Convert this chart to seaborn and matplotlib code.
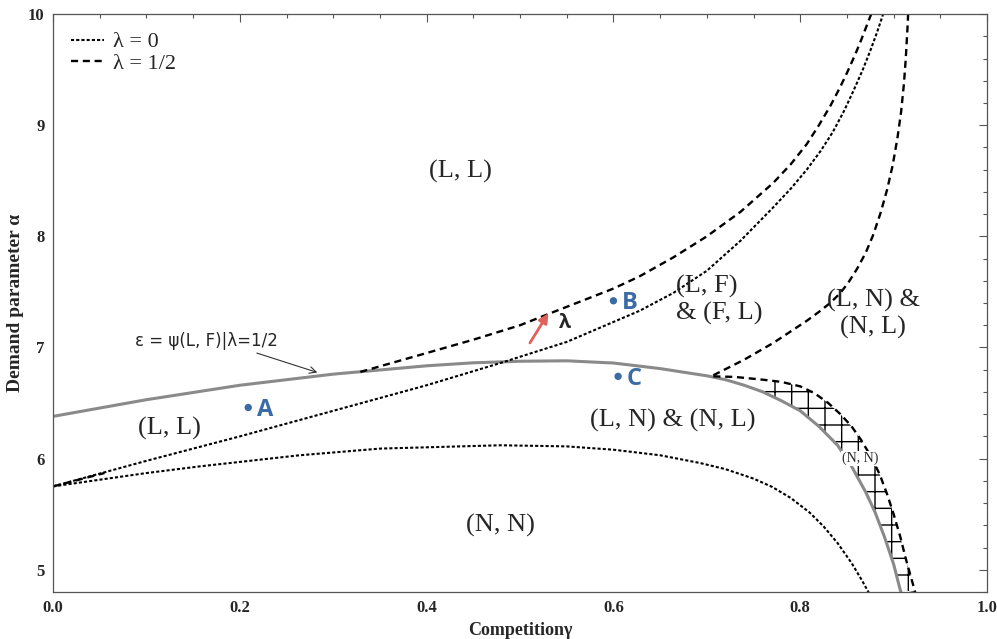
import numpy as np
import seaborn as sns
import matplotlib.pyplot as plt
from matplotlib.ticker import MultipleLocator

# psi(L, F) boundary at lambda = 1/2 (grey solid)
psi_g = [0.0, 0.1, 0.2, 0.3, 0.4, 0.45, 0.5, 0.55, 0.6, 0.65, 0.7, 0.72, 0.74, 0.76, 0.78, 0.8,
         0.82, 0.84, 0.855, 0.87, 0.88, 0.89, 0.9, 0.907, 0.912]
psi_a = [6.38, 6.53, 6.66, 6.76, 6.835, 6.862, 6.876, 6.88, 6.86, 6.81, 6.745, 6.71, 6.66, 6.60,
         6.52, 6.43, 6.29, 6.12, 5.93, 5.70, 5.52, 5.30, 5.05, 4.82, 4.7]

# lambda = 0 (dotted)
l0_up_g = [0.0, 0.1, 0.2, 0.3, 0.4, 0.479, 0.55, 0.628, 0.664, 0.7, 0.736, 0.771, 0.79, 0.807,
           0.822, 0.835, 0.847, 0.857, 0.867, 0.875, 0.882, 0.888, 0.892]
l0_up_a = [5.75, 5.98, 6.2, 6.43, 6.66, 6.86, 7.05, 7.33, 7.49, 7.69, 7.96, 8.26, 8.43, 8.60,
           8.77, 8.94, 9.13, 9.31, 9.50, 9.67, 9.83, 9.98, 10.1]
l0_lo_g = [0.0, 0.1, 0.157, 0.264, 0.35, 0.479, 0.55, 0.6, 0.65, 0.693, 0.72, 0.75, 0.77, 0.79,
           0.81, 0.825, 0.84, 0.855, 0.865, 0.873, 0.877]
l0_lo_a = [5.75, 5.87, 5.93, 6.03, 6.09, 6.12, 6.11, 6.08, 6.03, 5.96, 5.905, 5.82, 5.745, 5.645,
           5.515, 5.39, 5.24, 5.06, 4.92, 4.8, 4.73]

# lambda = 1/2 (dashed)
lh_start_g = [0.0, 0.055]
lh_start_a = [5.75, 5.87]
lh_lf_g = [0.329, 0.4, 0.45, 0.5, 0.53, 0.6, 0.628, 0.664, 0.7, 0.736, 0.771, 0.79, 0.807, 0.82,
           0.832, 0.842, 0.85, 0.858, 0.864, 0.87, 0.876, 0.88]
lh_lf_a = [6.78, 6.95, 7.07, 7.2, 7.3, 7.53, 7.64, 7.81, 8.00, 8.22, 8.48, 8.65, 8.83, 9.0,
           9.17, 9.33, 9.47, 9.62, 9.74, 9.87, 10.0, 10.1]
lh_ln_g = [0.707, 0.74, 0.771, 0.807, 0.82, 0.832, 0.843, 0.852, 0.861, 0.87, 0.878, 0.886,
           0.893, 0.899, 0.904, 0.908, 0.911, 0.913, 0.915, 0.916]
lh_ln_a = [6.75, 6.89, 7.04, 7.24, 7.32, 7.40, 7.49, 7.59, 7.71, 7.85, 8.01, 8.21,
           8.42, 8.64, 8.88, 9.12, 9.37, 9.60, 9.90, 10.1]
lh_nn_g = [0.707, 0.73, 0.76, 0.78, 0.8, 0.815, 0.83, 0.843, 0.855, 0.865, 0.875, 0.885, 0.893,
           0.9, 0.907, 0.913, 0.918, 0.923, 0.925]
lh_nn_a = [6.74, 6.735, 6.71, 6.69, 6.65, 6.59, 6.50, 6.40, 6.29, 6.17, 6.03, 5.86, 5.68,
           5.50, 5.30, 5.10, 4.95, 4.8, 4.7]

# sample points
pt_names = ["A", "B", "C"]
pt_g = [0.209, 0.6, 0.605]
pt_a = [6.46, 7.42, 6.74]

# region labels
regions = ["(L, L)", "(L, L)", "(L, F)\n& (F, L)", "(L, N) &\n(N, L)", "(L, N) & (N, L)", "(N, N)"]
region_g = [0.436, 0.125, 0.667, 0.878, 0.663, 0.479]
region_a = [8.58, 6.27, 7.43, 7.30, 6.34, 5.40]

sns.set_theme(style="white")
plt.rcParams["font.family"] = ["Liberation Serif", "DejaVu Serif"]

fig = plt.figure(figsize=(9.97, 6.39), dpi=100)
ax = fig.add_axes([0.0532, 0.0736, 0.9368, 0.9044])

dotted = (0, (1.5, 1.0))
dashed = (0, (3.0, 2.0))

sns.lineplot(x=psi_g, y=psi_a, color="#8a8a8a", lw=2.2, ax=ax)
sns.lineplot(x=l0_up_g, y=l0_up_a, color="black", lw=1.5, linestyle=dotted, ax=ax, label="λ = 0")
sns.lineplot(x=l0_lo_g, y=l0_lo_a, color="black", lw=1.5, linestyle=dotted, ax=ax)
sns.lineplot(x=lh_start_g, y=lh_start_a, color="black", lw=1.7, linestyle=dashed, ax=ax)
sns.lineplot(x=lh_lf_g, y=lh_lf_a, color="black", lw=1.7, linestyle=dashed, ax=ax, label="λ = 1/2")
sns.lineplot(x=lh_ln_g, y=lh_ln_a, color="black", lw=1.7, linestyle=dashed, ax=ax)
sns.lineplot(x=lh_nn_g, y=lh_nn_a, color="black", lw=1.7, linestyle=dashed, ax=ax)

# hatched (N, N) band between the grey curve and the lower dashed curve
top_g = [g for g in lh_nn_g if 0.76 <= g <= 0.923]
top_a = [a for g, a in zip(lh_nn_g, lh_nn_a) if 0.76 <= g <= 0.923]
bot_g = [g for g in psi_g if 0.76 <= g <= 0.907]
bot_a = [a for g, a in zip(psi_g, psi_a) if 0.76 <= g <= 0.907]
poly_g = top_g + bot_g[::-1]
poly_a = top_a + bot_a[::-1]
ax.fill(poly_g, poly_a, facecolor="none", edgecolor="black", hatch="+", lw=0)

sns.scatterplot(x=pt_g, y=pt_a, color="#3A6BA5", s=28, edgecolor="none", ax=ax)
for name, g, a in zip(pt_names, pt_g, pt_a):
    ax.text(g + 0.009, a - 0.02, name, fontsize=17, fontweight="bold", color="#3A6BA5",
            family=["Open Sans", "DejaVu Sans"], va="center", ha="left")

for lab, g, a in zip(regions, region_g, region_a):
    ha = "left" if lab.startswith("(L, F)") else "center"
    ax.text(g, a, lab, fontsize=19, ha=ha, va="center", linespacing=1.2)
ax.text(0.864, 6.0, "(N, N)", fontsize=10, ha="center", va="center",
        bbox=dict(facecolor="white", edgecolor="none", pad=0.5))

# lambda shift arrow
ax.annotate("", xy=(0.532, 7.33), xytext=(0.509, 7.02),
            arrowprops=dict(arrowstyle="-|>", color="#E0605A", lw=2, mutation_scale=14))
ax.text(0.548, 7.22, "λ", fontsize=14, fontweight="bold", family=["Open Sans", "DejaVu Sans"],
        ha="center", va="center")

ax.annotate("ε = ψ(L, F)|λ=1/2", xy=(0.283, 6.775), xytext=(0.088, 7.06),
            fontsize=12, family=["DejaVu Sans"], va="center", ha="left",
            arrowprops=dict(arrowstyle="->", color="#333333", lw=0.8, shrinkA=0, shrinkB=0,
                            relpos=(0.78, 0.0)))

ax.set_xlim(0, 1)
ax.set_ylim(4.8, 10)
ax.xaxis.set_major_locator(MultipleLocator(0.2))
ax.xaxis.set_minor_locator(MultipleLocator(0.05))
ax.yaxis.set_major_locator(MultipleLocator(1))
ax.yaxis.set_minor_locator(MultipleLocator(0.2))
ax.xaxis.set_major_formatter(plt.FormatStrFormatter("%.1f"))
ax.tick_params(which="both", direction="in", top=True, right=True, labeltop=False,
               labelright=False, color="#555555", width=0.8)
ax.tick_params(which="major", length=6, labelsize=12, pad=6)
ax.tick_params(which="minor", length=3)
for lbl in ax.get_xticklabels() + ax.get_yticklabels():
    lbl.set_fontweight("bold")
for sp in ax.spines.values():
    sp.set_color("#555555")
    sp.set_linewidth(0.9)

ax.set_xlabel("Competitionγ", fontsize=13, fontweight="bold", labelpad=4)
ax.set_ylabel("Demand parameter α", fontsize=14, fontweight="bold", labelpad=3)

ax.legend(loc="upper left", frameon=False, fontsize=16, handlelength=1.5, handletextpad=0.4,
          borderaxespad=0.4, labelspacing=0.05)

fig.savefig("out.png", dpi=100)
